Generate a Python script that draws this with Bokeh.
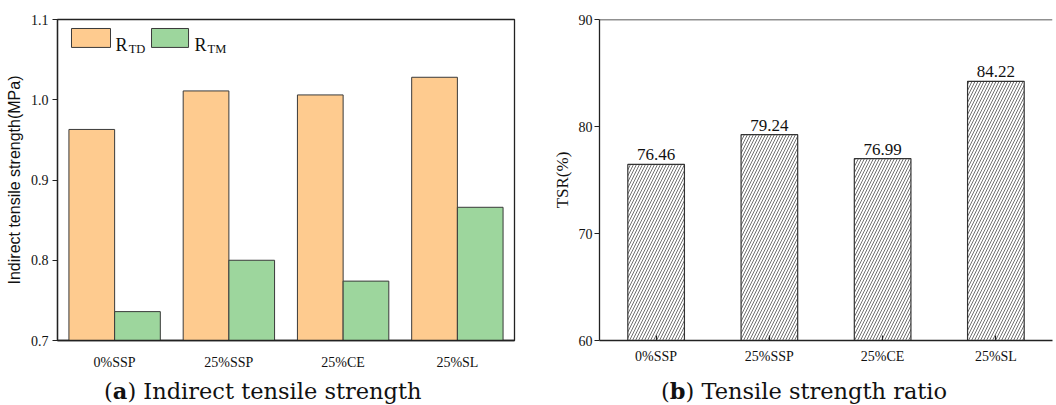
from bokeh.plotting import figure
from bokeh.models import (ColumnDataSource, FactorRange, Range1d, FixedTicker, Label,
                          LabelSet, BoxAnnotation, Div, Span, NumeralTickFormatter)
from bokeh.core.properties import value
from bokeh.transform import dodge
from bokeh.layouts import row, column
from bokeh.embed import file_html
from bokeh.resources import INLINE

categories = ["0%SSP", "25%SSP", "25%CE", "25%SL"]
r_td = [0.963, 1.011, 1.006, 1.028]
r_tm = [0.736, 0.800, 0.774, 0.866]
tsr = [76.46, 79.24, 76.99, 84.22]
tsr_labels = ["76.46", "79.24", "76.99", "84.22"]
y1_ticks = [0.7, 0.8, 0.9, 1.0, 1.1]
y2_ticks = [60, 70, 80, 90]

SERIF = "Liberation Serif"
SANS = "Liberation Sans"
ORANGE = "#FECB8F"
GREEN = "#9DD69D"
EDGE = "#3a3a3a"
AX = "#222222"


def style_axes(p):
    p.xgrid.visible = False
    p.ygrid.visible = False
    for ax in (p.xaxis[0], p.yaxis[0]):
        ax.axis_line_color = AX
        ax.axis_line_width = 1.3
        ax.major_tick_line_color = AX
        ax.major_tick_line_width = 1.2
        ax.minor_tick_line_color = None
        ax.major_label_text_font = SERIF
        ax.major_label_text_font_size = "14px"
        ax.major_label_text_color = "#111111"
        ax.axis_label_text_font = SERIF
        ax.axis_label_text_font_size = "17px"
        ax.axis_label_text_font_style = "normal"
        ax.axis_label_text_color = "#111111"
    p.yaxis[0].major_tick_out = 5
    p.yaxis[0].major_tick_in = 0


# ---------------- (a) Indirect tensile strength ----------------
src1 = ColumnDataSource(dict(cat=categories, td=r_td, tm=r_tm))
p1 = figure(width=530, height=373, x_range=FactorRange(*categories),
            y_range=Range1d(0.7, 1.1), output_backend="svg", toolbar_location=None,
            min_border_left=57, min_border_right=16, min_border_top=18,
            min_border_bottom=33)
p1.vbar(x=dodge("cat", -0.2, range=p1.x_range), top="td", width=0.4, source=src1,
        fill_color=ORANGE, line_color=EDGE, line_width=1)
p1.vbar(x=dodge("cat", 0.2, range=p1.x_range), top="tm", width=0.4, source=src1,
        fill_color=GREEN, line_color=EDGE, line_width=1)
style_axes(p1)
p1.yaxis[0].ticker = FixedTicker(ticks=y1_ticks)
p1.yaxis[0].formatter = NumeralTickFormatter(format="0.0")
p1.yaxis[0].major_label_standoff = 4
p1.yaxis[0].axis_label = "Indirect tensile strength(MPa)"
p1.yaxis[0].axis_label_text_font = SANS
p1.yaxis[0].axis_label_text_font_size = "16px"
p1.yaxis[0].axis_label_standoff = 5
p1.xaxis[0].major_tick_line_color = None
p1.xaxis[0].major_label_standoff = 8
p1.outline_line_color = AX
p1.outline_line_width = 1.3
p1.outline_line_alpha = 1

# custom legend (boxes + R with subscripts)
p1.add_layout(BoxAnnotation(left=0.1225, right=0.4639, bottom=1.0652, top=1.0888,
                            fill_color=ORANGE, fill_alpha=1, line_color=EDGE,
                            line_width=1, line_alpha=1))
p1.add_layout(BoxAnnotation(left=0.823, right=1.147, bottom=1.0652, top=1.0888,
                            fill_color=GREEN, fill_alpha=1, line_color=EDGE,
                            line_width=1, line_alpha=1))
for x0, sub in ((0.508, "TD"), (1.199, "TM")):
    p1.add_layout(Label(x=x0, y=1.0686, text="R", text_font=SERIF,
                        text_font_size="18px", text_color="#111111",
                        text_baseline="alphabetic"))
    p1.add_layout(Label(x=x0 + 0.115, y=1.0635, text=sub, text_font=SERIF,
                        text_font_size="12.5px", text_color="#111111",
                        text_baseline="alphabetic"))

# ---------------- (b) Tensile strength ratio ----------------
src2 = ColumnDataSource(dict(cat=categories, tsr=tsr, lab=tsr_labels))
p2 = figure(width=526, height=373, x_range=FactorRange(*categories),
            y_range=Range1d(60, 90), output_backend="svg", toolbar_location=None,
            min_border_left=69, min_border_right=4, min_border_top=19,
            min_border_bottom=27)
p2.vbar(x="cat", top="tsr", width=0.5, source=src2, fill_color="white",
        line_color="#333333", line_width=1.2,
        hatch_pattern="right_diagonal_line", hatch_color="#333333",
        hatch_scale=6, hatch_weight=0.7)
p2.add_layout(LabelSet(x="cat", y="tsr", text="lab", source=src2,
                       text_font=value(SERIF), text_font_size=value("17px"),
                       text_color="#111111", text_align="center",
                       text_baseline="alphabetic", y_offset=4))
style_axes(p2)
p2.yaxis[0].ticker = FixedTicker(ticks=y2_ticks)
p2.yaxis[0].major_label_standoff = 2
p2.yaxis[0].axis_label = "TSR(%)"
p2.yaxis[0].axis_label_text_font_size = "17px"
p2.yaxis[0].axis_label_standoff = 4
p2.xaxis[0].major_tick_in = 5
p2.xaxis[0].major_tick_out = 0
p2.xaxis[0].major_label_standoff = 8
p2.outline_line_color = None
p2.add_layout(Span(location=90, dimension="width", line_color=AX, line_width=1.3))

cap_style = ("font-family:'DejaVu Serif'; font-size:22.5px; line-height:22px; "
             "color:#111; white-space:nowrap; padding-top:2px;")
d1 = Div(text=f'<div style="{cap_style} padding-left:99px;">(<b>a</b>) Indirect tensile strength</div>',
         width=530, height=24)
d2 = Div(text=f'<div style="{cap_style} padding-left:116px;">(<b>b</b>) Tensile strength ratio</div>',
         width=526, height=24)

layout = column(row(p1, p2), row(d1, d2))
open("out.html", "w").write(file_html(layout, INLINE))
